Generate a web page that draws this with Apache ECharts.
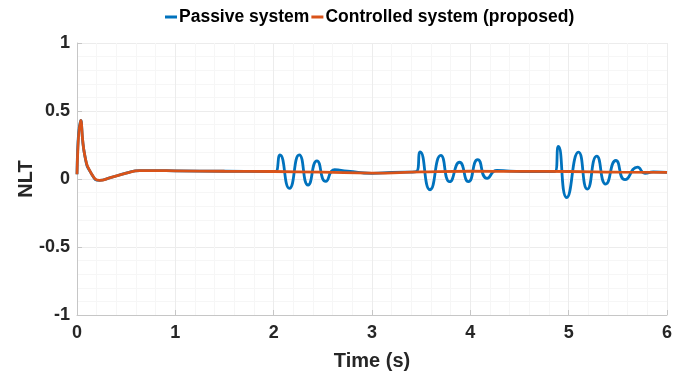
<!DOCTYPE html>
<html>
<head>
<meta charset="utf-8">
<script src="https://cdn.jsdelivr.net/npm/echarts@6/dist/echarts.min.js"></script>
<style>html,body{margin:0;padding:0;background:#fff}#c{width:689px;height:377px}</style>
</head>
<body>
<div id="c"></div>
<script>
// Shared baseline
const baseTime = [0, 0.037, 0.08, 0.15, 0.23, 0.34, 0.5, 0.64, 0.8, 1.0, 1.5, 2.0];
const baseNLT  = [0.035, 0.43, 0.17, 0.035, -0.01, 0.01, 0.043, 0.062, 0.062, 0.06, 0.057, 0.055];

// Passive system bursts (peaks and troughs)
const burst1Time = [2.02, 2.064, 2.16, 2.26, 2.35, 2.44, 2.53, 2.62, 2.75, 3.0, 3.2, 3.45];
const burst1NLT  = [0.055, 0.178, -0.069, 0.178, -0.044, 0.133, -0.017, 0.068, 0.058, 0.042, 0.048, 0.055];
const burst2Time = [3.49, 3.59, 3.70, 3.79, 3.89, 3.98, 4.075, 4.17, 4.27, 4.4, 4.6, 4.86];
const burst2NLT  = [0.20, -0.079, 0.173, -0.02, 0.123, -0.02, 0.143, 0.005, 0.063, 0.058, 0.055, 0.055];
const burst3Time = [4.895, 4.98, 5.10, 5.19, 5.285, 5.377, 5.48, 5.573, 5.70, 5.776, 5.86, 6.0];
const burst3NLT  = [0.24, -0.136, 0.198, -0.074, 0.168, -0.037, 0.136, -0.005, 0.087, 0.042, 0.052, 0.048];

// Controlled system tail after the transient
const ctrlTime = [2.5, 3.0, 3.5, 4.0, 4.5, 5.0, 5.5, 6.0];
const ctrlNLT  = [0.05, 0.043, 0.052, 0.057, 0.056, 0.055, 0.05, 0.048];

const xTicks = [0, 1, 2, 3, 4, 5, 6];
const yTicks = [-1, -0.5, 0, 0.5, 1];

function pairs(t, v) { return t.map((x, i) => [x, v[i]]); }
const passive = pairs(baseTime, baseNLT)
  .concat(pairs(burst1Time, burst1NLT))
  .concat(pairs(burst2Time, burst2NLT))
  .concat(pairs(burst3Time, burst3NLT));
const controlled = pairs(baseTime, baseNLT).concat(pairs(ctrlTime, ctrlNLT));

const chart = echarts.init(document.getElementById('c'));
const txt = '#262626';
chart.setOption({
  animation: false,
  backgroundColor: '#fff',
  legend: {
    top: 8, left: 165, padding: 0,
    itemWidth: 12, itemHeight: 3, itemGap: 2,
    icon: 'rect',
    textStyle: { fontFamily: 'Liberation Sans', fontWeight: 'bold', fontSize: 17.5, color: '#000', padding: [0, 0, 0, -3] },
    data: ['Passive system', 'Controlled system (proposed)']
  },
  grid: { left: 77, right: 22, top: 43, bottom: 62 },
  xAxis: {
    type: 'value', min: xTicks[0], max: xTicks[xTicks.length - 1], interval: 1,
    name: 'Time (s)', nameLocation: 'middle', nameGap: 36, nameMoveOverlap: false,
    nameTextStyle: { fontFamily: 'Liberation Sans', fontWeight: 'bold', fontSize: 20, color: txt },
    axisLine: { onZero: false, lineStyle: { color: '#c6c6c6', width: 1 } },
    axisTick: { inside: true, length: 5, lineStyle: { color: '#c6c6c6' } },
    axisLabel: { fontFamily: 'Liberation Sans', fontWeight: 'bold', fontSize: 18, color: txt, margin: 9 },
    splitLine: { show: true, lineStyle: { color: '#ececec' } },
    minorTick: { show: false, splitNumber: 5 },
    minorSplitLine: { show: true, lineStyle: { color: '#f6f6f6' } }
  },
  yAxis: {
    type: 'value', min: yTicks[0], max: yTicks[yTicks.length - 1], interval: 0.5,
    name: 'NLT', nameLocation: 'middle', nameGap: 41, nameMoveOverlap: false,
    nameTextStyle: { fontFamily: 'Liberation Sans', fontWeight: 'bold', fontSize: 20, color: txt },
    axisLine: { show: true, lineStyle: { color: '#c6c6c6', width: 1 } },
    axisTick: { show: true, inside: true, length: 5, lineStyle: { color: '#c6c6c6' } },
    axisLabel: { fontFamily: 'Liberation Sans', fontWeight: 'bold', fontSize: 18, color: txt, margin: 7 },
    splitLine: { show: true, lineStyle: { color: '#ececec' } },
    minorTick: { show: false, splitNumber: 5 },
    minorSplitLine: { show: true, lineStyle: { color: '#f6f6f6' } }
  },
  series: [
    { name: 'Passive system', type: 'line', data: passive, smooth: 0.6, showSymbol: false,
      lineStyle: { color: '#0072BD', width: 2.8 }, itemStyle: { color: '#0072BD' } },
    { name: 'Controlled system (proposed)', type: 'line', data: controlled, smooth: 0.5, showSymbol: false,
      lineStyle: { color: '#D95319', width: 2.8 }, itemStyle: { color: '#D95319' } }
  ]
});
</script>
</body>
</html>
